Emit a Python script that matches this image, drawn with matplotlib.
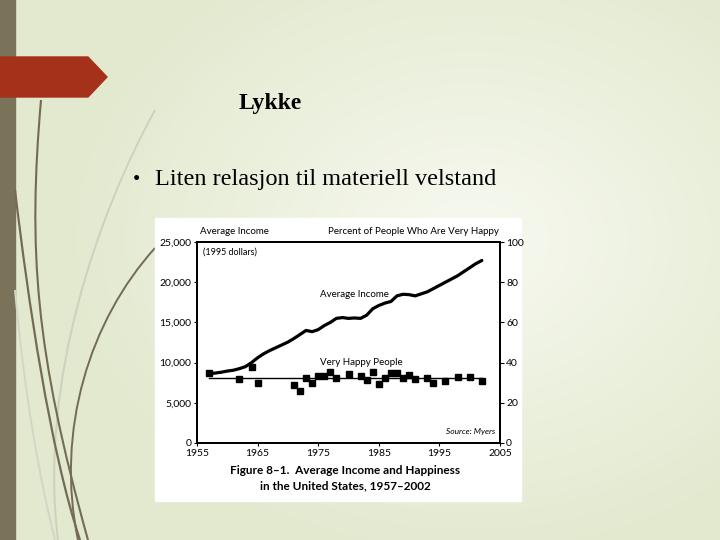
import numpy as np
import matplotlib.pyplot as plt
from matplotlib.path import Path
from matplotlib.patches import PathPatch, Rectangle, Polygon

# === DATA ===
income_years = list(range(1957, 2003))
income = [8600, 8700, 8800, 8950, 9050, 9250, 9500, 10000, 10600, 11100,
          11500, 11850, 12200, 12550, 13000, 13500, 14000, 13850, 14100, 14600,
          15000, 15500, 15600, 15500, 15550, 15500, 15900, 16700, 17100, 17400,
          17600, 18300, 18500, 18450, 18300, 18550, 18800, 19200, 19600, 20000,
          20400, 20800, 21300, 21800, 22300, 22700]

happy_years = [1957, 1962, 1964, 1965, 1971, 1972, 1973, 1974, 1975, 1976,
               1977, 1978, 1980, 1982, 1983, 1984, 1985, 1986, 1987, 1988,
               1989, 1990, 1991, 1993, 1994, 1996, 1998, 2000, 2002]
happy = [34.7, 31.7, 38.0, 30.0, 28.9, 26.0, 32.2, 30.0, 33.3, 33.3,
         35.2, 32.2, 34.3, 33.3, 31.3, 35.3, 29.4, 32.5, 34.7, 34.7,
         32.5, 33.7, 31.7, 32.5, 29.7, 30.8, 32.7, 32.7, 30.8]

x_ticks = [1955, 1965, 1975, 1985, 1995, 2005]
left_ticks = [0, 5000, 10000, 15000, 20000, 25000]
left_labels = ["0", "5,000", "10,000", "15,000", "20,000", "25,000"]
right_ticks = [0, 20, 40, 60, 80, 100]

W, H = 720, 540
fig = plt.figure(figsize=(7.2, 5.4), dpi=100)

# === SLIDE BACKGROUND ===
bg = fig.add_axes([0, 0, 1, 1])
bg.set_xlim(0, W)
bg.set_ylim(H, 0)
bg.axis("off")

yy, xx = np.mgrid[0:H, 0:W]
d = np.sqrt(((xx - 470) / 420.0) ** 2 + ((yy - 240) / 330.0) ** 2)
d = np.clip(d, 0, 1)
c_in = np.array([247, 249, 240]) / 255.0
c_out = np.array([226, 233, 206]) / 255.0
img = c_in[None, None, :] * (1 - d[..., None]) + c_out[None, None, :] * d[..., None]
bg.imshow(img, extent=[0, W, H, 0], aspect="auto", zorder=0)

# left bar
bg.add_patch(Rectangle((0, 0), 15, H, color="#7a7259", zorder=1))

# decorative curves
def curve(pts, color, lw):
    p = Path(pts, [Path.MOVETO, Path.CURVE4, Path.CURVE4, Path.CURVE4])
    bg.add_patch(PathPatch(p, fill=False, edgecolor=color, lw=lw, zorder=2))

curve([(155, 110), (100, 210), (38, 380), (58, 540)], "#cdd1be", 1.4)
curve([(15, 290), (25, 400), (40, 480), (55, 540)], "#d3d6c4", 1.4)
curve([(41, 100), (28, 250), (35, 350), (88, 540)], "#736b53", 1.5)
curve([(15, 190), (28, 300), (50, 450), (80, 540)], "#736b53", 1.6)
curve([(155, 248), (90, 320), (55, 430), (78, 540)], "#736b53", 1.4)

# red arrow tab
bg.add_patch(Polygon([(0, 57), (88, 57), (107, 77), (88, 97), (0, 97)],
                     closed=True, color="#a5311a", zorder=3))

# title and bullet
bg.text(270, 103, "Lykke", family="Liberation Serif", weight="bold",
        fontsize=17, ha="center", va="center", zorder=4)
bg.text(133, 180, "\u2022", family="Liberation Serif", fontsize=15,
        ha="left", va="center", zorder=4)
bg.text(155, 180, "Liten relasjon til materiell velstand", family="Liberation Serif",
        fontsize=17.5, ha="left", va="center", zorder=4)

# white picture area
bg.add_patch(Rectangle((155, 218), 366, 283, color="white", zorder=3))

# === CHART ===
font = "Lato"
ax = fig.add_axes([197 / W, 1 - 443 / H, 303 / W, 201 / H])
ax.set_facecolor("white")
ax.plot(income_years, income, color="black", lw=2.3, solid_capstyle="round")
ax.set_xlim(1955, 2005)
ax.set_ylim(0, 25000)
ax.set_xticks(x_ticks)
ax.set_xticklabels([str(t) for t in x_ticks], family=font, fontsize=7.5)
ax.set_yticks(left_ticks)
ax.set_yticklabels(left_labels, family=font, fontsize=7.5)
ax.tick_params(axis="both", length=2.5, width=0.8, pad=1.5, direction="out")
for s in ax.spines.values():
    s.set_linewidth(1.4)

ax2 = ax.twinx()
ax2.plot(happy_years, happy, "s", color="black", markersize=4.3)
mean_h = np.mean(happy)
ax2.plot([happy_years[0], happy_years[-1]], [mean_h, mean_h], color="black", lw=1.0)
ax2.set_ylim(0, 100)
ax2.set_yticks(right_ticks)
ax2.set_yticklabels([str(t) for t in right_ticks], family=font, fontsize=7.5)
ax2.tick_params(axis="y", length=3, width=0.8, pad=1.5, direction="out")
for s in ax2.spines.values():
    s.set_linewidth(1.4)

# chart annotations
ax.text(0.01, 1.03, "Average Income", transform=ax.transAxes, family=font,
        fontsize=7, ha="left", va="bottom")
ax.text(0.995, 1.03, "Percent of People Who Are Very Happy", transform=ax.transAxes,
        family=font, fontsize=7, ha="right", va="bottom")
ax.text(0.02, 0.95, "(1995 dollars)", transform=ax.transAxes, family=font,
        fontsize=6.5, ha="left", va="center")
ax.text(1986.6, 18500, "Average Income", family=font, fontsize=7,
        ha="right", va="center")
ax.text(1975.3, 10000, "Very Happy People", family=font, fontsize=7,
        ha="left", va="center")
ax.text(0.985, 0.055, "Source: Myers", transform=ax.transAxes, family=font,
        fontsize=6, ha="right", va="center", style="italic")

fig.text(345 / W, 1 - 471 / H, "Figure 8\u20131.  Average Income and Happiness",
         family=font, weight="bold", fontsize=8.5, ha="center", va="center")
fig.text(345 / W, 1 - 486 / H, "in the United States, 1957\u20132002",
         family=font, weight="bold", fontsize=8.5, ha="center", va="center")

fig.savefig("out.png", dpi=100)
